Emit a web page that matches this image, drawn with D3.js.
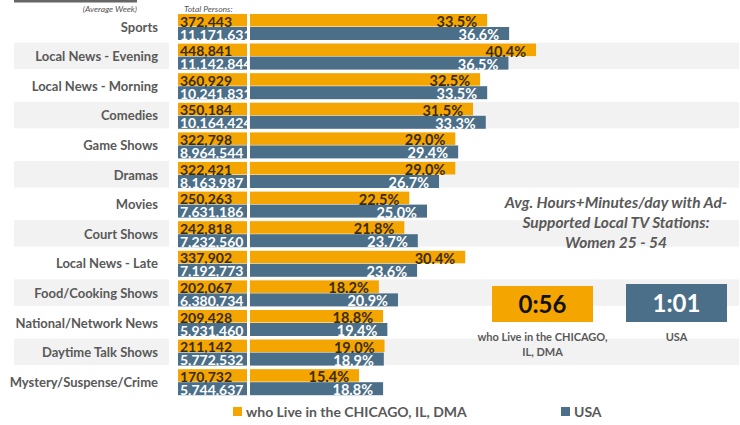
<!DOCTYPE html>
<html><head><meta charset="utf-8">
<script src="https://cdn.jsdelivr.net/npm/d3@7"></script>
<style>
html,body{margin:0;padding:0;background:#fff;}
svg{display:block;font-family:Lato,"Open Sans",sans-serif;}
</style></head>
<body>
<svg id="chart" width="740" height="425"></svg>
<script>
const categories = ["Sports","Local News - Evening","Local News - Morning","Comedies","Game Shows","Dramas","Movies","Court Shows","Local News - Late","Food/Cooking Shows","National/Network News","Daytime Talk Shows","Mystery/Suspense/Crime"];
const chicagoPersons = [372443,448841,360929,350184,322798,322421,250263,242818,337902,202067,209428,211142,170732];
const usaPersons = [11171631,11142844,10241831,10164424,8964544,8163987,7631186,7232560,7192773,6380734,5931460,5772532,5744637];
const chicagoPct = [33.5,40.4,32.5,31.5,29.0,29.0,22.5,21.8,30.4,18.2,18.8,19.0,15.4];
const usaPct = [36.6,36.5,33.5,33.3,29.4,26.7,25.0,23.7,23.6,20.9,19.4,18.9,18.8];
const seriesNames = ["who Live in the CHICAGO, IL, DMA","USA"];
const timeValues = ["0:56","1:01"];
const timeLabels = [["who Live in the CHICAGO,","IL, DMA"],["USA"]];
const panelTitle = ["Avg. Hours+Minutes/day with Ad-","Supported Local TV Stations:","Women 25 - 54"];

const ORANGE = "#F5A500", BLUE = "#4B6F89", BAND = "#F2F2F2", LABEL = "#595959", DARK = "#3a2c0c";
const svg = d3.select("#chart");
const rows = categories.map((c,i)=>({c, cp:chicagoPersons[i], up:usaPersons[i], cv:chicagoPct[i], uv:usaPct[i], i}));

const y = d3.scaleBand().domain(categories).range([14, 14 + 13*29.6]).padding(0);
const x = d3.scaleLinear().domain([0, 50]).range([250, 250 + 354]);
const fmt = d3.format(",");
const pfmt = d3.format(".1f");

// top-left fragments
svg.append("rect").attr("x",14).attr("y",0).attr("width",123).attr("height",2.5).attr("fill","#666");
svg.append("text").attr("x",137).attr("y",12).attr("text-anchor","end").attr("font-size",8.5).attr("font-style","italic").attr("fill","#555").text("(Average Week)");
svg.append("text").attr("x",184).attr("y",12).attr("font-size",8.5).attr("font-style","italic").attr("fill","#555").text("Total Persons:");

// alternating bands
const odd = rows.filter(d=>d.i%2===1);
svg.selectAll("rect.bl").data(odd).join("rect").attr("x",14).attr("width",155)
  .attr("y",d=>y(d.c)-1).attr("height",26.5).attr("fill",BAND);
svg.selectAll("rect.br").data(odd).join("rect").attr("x",249).attr("width",490)
  .attr("y",d=>y(d.c)-1).attr("height",26.5).attr("fill",BAND);

// category labels
svg.selectAll("text.cat").data(rows).join("text").attr("class","cat")
  .attr("x",158).attr("y",d=>y(d.c)+13).attr("dy","0.35em").attr("text-anchor","end")
  .attr("font-size",13).attr("font-weight",700).attr("fill",LABEL).text(d=>d.c);

// number boxes
svg.append("clipPath").attr("id","boxclip").append("rect").attr("x",178).attr("y",0).attr("width",69).attr("height",425);
const nb = svg.append("g").attr("clip-path","url(#boxclip)");
nb.selectAll("rect.no").data(rows).join("rect").attr("x",178).attr("width",69)
  .attr("y",d=>y(d.c)).attr("height",12.5).attr("fill",ORANGE);
nb.selectAll("rect.nu").data(rows).join("rect").attr("x",178).attr("width",69)
  .attr("y",d=>y(d.c)+13).attr("height",13).attr("fill",BLUE);
nb.selectAll("text.no").data(rows).join("text").attr("x",180).attr("y",d=>y(d.c)+12.5)
  .attr("font-size",14).attr("font-weight",700).attr("fill",DARK).text(d=>fmt(d.cp));
nb.selectAll("text.nu").data(rows).join("text").attr("x",180).attr("y",d=>y(d.c)+25.5)
  .attr("font-size",14).attr("font-weight",700).attr("fill","#fff").text(d=>fmt(d.up));

// percentage bars
svg.selectAll("rect.pc").data(rows).join("rect").attr("x",x(0)).attr("y",d=>y(d.c))
  .attr("width",d=>x(d.cv)-x(0)).attr("height",12.5).attr("fill",ORANGE);
svg.selectAll("rect.pu").data(rows).join("rect").attr("x",x(0)).attr("y",d=>y(d.c)+13)
  .attr("width",d=>x(d.uv)-x(0)).attr("height",13).attr("fill",BLUE);
svg.selectAll("text.pc").data(rows).join("text").attr("x",d=>x(d.cv)-10).attr("y",d=>y(d.c)+13)
  .attr("text-anchor","end").attr("font-size",14.5).attr("font-weight",700).attr("fill",DARK).text(d=>pfmt(d.cv)+"%");
svg.selectAll("text.pu").data(rows).join("text").attr("x",d=>x(d.uv)-10).attr("y",d=>y(d.c)+26)
  .attr("text-anchor","end").attr("font-size",14.5).attr("font-weight",700).attr("fill","#fff").text(d=>pfmt(d.uv)+"%");

// right panel
svg.selectAll("text.pt").data(panelTitle).join("text").attr("x",616).attr("y",(d,i)=>208+i*20)
  .attr("text-anchor","middle").attr("font-size",15.5).attr("font-weight",700).attr("font-style","italic")
  .attr("fill",LABEL).text(d=>d);
const boxes = [{x:492,y:286,w:101,h:36,fill:ORANGE,tc:"#111"},{x:626,y:284,w:101,h:38,fill:BLUE,tc:"#fff"}];
boxes.forEach((b,i)=>{
  svg.append("rect").attr("x",b.x).attr("y",b.y).attr("width",b.w).attr("height",b.h).attr("fill",b.fill);
  svg.append("text").attr("x",b.x+b.w/2).attr("y",b.y+b.h/2).attr("dy","0.36em").attr("text-anchor","middle")
    .attr("font-size",24).attr("font-weight",700).attr("fill",b.tc).text(timeValues[i]);
  timeLabels[i].forEach((t,j)=>{
    svg.append("text").attr("x",b.x+b.w/2).attr("y",341+j*15).attr("text-anchor","middle")
      .attr("font-size",11).attr("font-weight",700).attr("fill",LABEL).text(t);
  });
});

// legend
const lg = [{x:233,c:ORANGE},{x:561,c:BLUE}];
lg.forEach((l,i)=>{
  svg.append("rect").attr("x",l.x).attr("y",407).attr("width",9).attr("height",9).attr("fill",l.c);
  svg.append("text").attr("x",l.x+13).attr("y",412).attr("dy","0.35em").attr("font-size",14)
    .attr("font-weight",700).attr("fill",LABEL).text(seriesNames[i]);
});
</script>
</body></html>
